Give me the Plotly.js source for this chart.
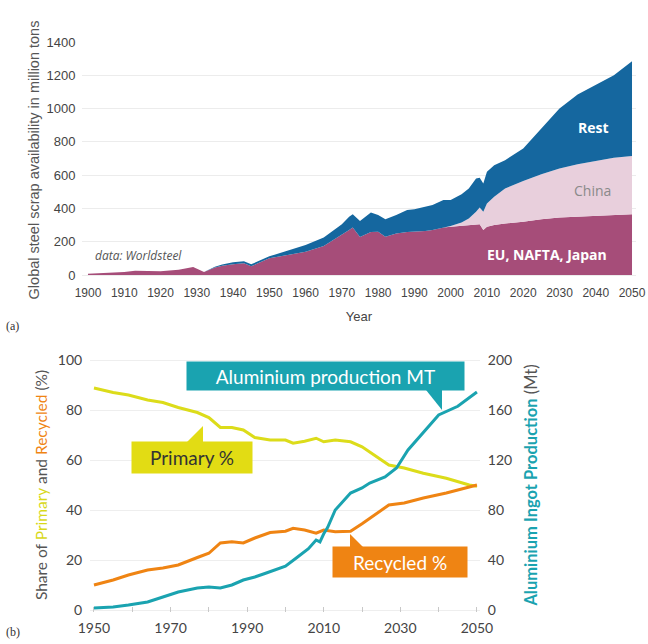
<!DOCTYPE html>
<html>
<head>
<meta charset="utf-8">
<script src="https://cdn.plot.ly/plotly-3.0.1.min.js"></script>
<style>html,body{margin:0;padding:0;background:#fff;}#chart{width:648px;height:644px;}</style>
</head>
<body>
<div id="chart"></div>
<script>
// ---- Panel (a): global steel scrap availability (million tons), stacked ----
const yearsA = [1900,1905,1910,1913,1917,1920,1925,1929,1932,1935,1937,1940,1943,1945,1950,1955,1960,1965,1970,1972,1973,1975,1978,1980,1982,1985,1988,1990,1993,1995,1998,2000,2003,2005,2007,2008,2009,2010,2012,2015,2020,2025,2030,2035,2040,2045,2050];
const euNaftaJapan = [8,12,18,25,22,22,32,48,18,45,55,65,70,52,100,120,140,175,240,270,285,228,258,260,230,250,258,260,265,270,285,290,295,300,300,305,270,290,300,310,320,335,345,350,355,360,365];
const china = [0,0,0,0,0,0,0,0,0,0,0,0,0,0,0,0,0,0,0,0,0,0,0,0,0,0,0,0,0,0,0,5,20,40,80,100,110,140,170,210,245,270,295,315,330,345,350];
const rest = [0,0,0,0,0,0,0,0,0,5,8,12,12,12,12,25,40,50,65,80,80,97,117,100,105,110,132,135,145,150,165,155,170,180,200,180,170,190,190,170,195,275,360,420,455,495,570];
const ticksA = [1900,1910,1920,1930,1940,1950,1960,1970,1980,1990,2000,2010,2020,2030,2040,2050];

// ---- Panel (b): aluminium ----
const yearsShare = [1950,1955,1959,1964,1968,1972,1977,1980,1983,1986,1989,1992,1996,2000,2002,2005,2008,2010,2013,2017,2020,2024,2027,2031,2036,2042,2048,2050];
const primaryPct = [88.8,87,86,84,83,81,79,77,73,73,72,69,68,68,66.7,67.5,68.7,67.3,68,67.3,65.3,61.3,58,56.8,54.7,52.7,50,49.5];
const recycledPct = [10,12,14,16,16.8,18,21,22.7,26.8,27.3,26.8,28.8,31,31.5,32.7,32,30.7,32,31.3,31.5,34.5,38.7,42,42.8,44.8,46.8,49,50];
const yearsProd = [1950,1955,1959,1964,1968,1972,1977,1980,1983,1986,1989,1992,1995,1998,2000,2003,2006,2008,2009,2010,2011,2013,2017,2020,2022,2026,2029,2032,2036,2040,2045,2050];
const productionMt = [1.6,2.4,4,6.4,10.4,14.4,17.6,18.4,17.6,20,24,26.4,29.6,33,35,42,49,56,54.5,61,66,80,93.6,97.6,101.6,106.4,113.6,128,141.6,156,163,174.4];
const ticksB = [1950,1970,1990,2010,2030,2050];

const W = 648, H = 644;
const px = v => v / W;
const py = v => 1 - v / H;

const C = {eu:'#a64d79', china:'#e8cfdc', rest:'#15679f', yel:'#dcdc1a', yelBox:'#e2dc14', ora:'#ef8413', teal:'#1aa3b0'};

const traces = [
  {x:yearsA, y:euNaftaJapan, name:'EU, NAFTA, Japan', type:'scatter', mode:'lines', stackgroup:'a', line:{width:0, color:C.eu}, fillcolor:C.eu, xaxis:'x', yaxis:'y'},
  {x:yearsA, y:china, name:'China', type:'scatter', mode:'lines', stackgroup:'a', line:{width:0, color:C.china}, fillcolor:C.china, xaxis:'x', yaxis:'y'},
  {x:yearsA, y:rest, name:'Rest', type:'scatter', mode:'lines', stackgroup:'a', line:{width:0, color:C.rest}, fillcolor:C.rest, xaxis:'x', yaxis:'y'},
  {x:yearsShare, y:primaryPct, name:'Primary %', type:'scatter', mode:'lines', line:{width:3, color:C.yel}, xaxis:'x2', yaxis:'y2'},
  {x:yearsShare, y:recycledPct, name:'Recycled %', type:'scatter', mode:'lines', line:{width:3, color:C.ora}, xaxis:'x2', yaxis:'y2'},
  {x:yearsProd, y:productionMt, name:'Aluminium production MT', type:'scatter', mode:'lines', line:{width:3, color:C.teal}, xaxis:'x2', yaxis:'y3'}
];

const AR = 'Liberation Sans, Arial, sans-serif';
const fAx = {family:AR, size:12, color:'#444'};
const fAy = {family:AR, size:13, color:'#444'};
const fB = {family:'Lato, sans-serif', size:14, color:'#444'};

function tri(pts, color){
  let d = 'M' + pts.map(p => px(p[0]) + ',' + py(p[1])).join(' L') + ' Z';
  return {type:'path', xref:'paper', yref:'paper', path:d, fillcolor:color, line:{width:0}, layer:'above'};
}

const layout = {
  width:W, height:H,
  margin:{l:0,r:0,t:0,b:0},
  paper_bgcolor:'#fff', plot_bgcolor:'rgba(0,0,0,0)',
  showlegend:false,
  xaxis:{domain:[px(82), px(636)], range:[1898.35, 2051.1], anchor:'y', tickvals:ticksA,
    showgrid:false, zeroline:false, showline:false, ticks:'outside', ticklen:4, tickcolor:'rgba(0,0,0,0)', tickfont:fAx,
    title:{text:'Year', font:{family:AR, size:13, color:'#444'}, standoff:12}},
  yaxis:{domain:[py(278), py(42)], range:[-18, 1400], dtick:200, anchor:'x',
    showgrid:true, gridcolor:'#ececec', gridwidth:1, zeroline:false, showline:false, ticks:'outside', ticklen:3, tickcolor:'rgba(0,0,0,0)', tickfont:fAy,
    title:{text:'Global steel scrap availability in million tons', font:{family:AR, size:14.5, color:'#555'}, standoff:3}},
  xaxis2:{domain:[px(90), px(480)], range:[1948.96, 2050.8], anchor:'y2', tickvals:ticksB,
    showgrid:false, zeroline:false, showline:false, ticks:'inside', ticklen:5, tickcolor:'#c8c8c8', tickfont:fB, ticklabelstandoff:6,
    minor:{dtick:10, tick0:1950, ticks:'inside', ticklen:5, tickcolor:'#c8c8c8', showgrid:false}},
  yaxis2:{domain:[py(612), py(358)], range:[-0.8, 100.8], dtick:20, anchor:'x2',
    showgrid:true, gridcolor:'#eeeeee', zeroline:false, showline:false, ticks:'outside', ticklen:4, tickcolor:'rgba(0,0,0,0)', tickfont:fB,
    title:{text:'Share of <span style="color:#d8d81a">Primary</span> and <span style="color:#ef8413">Recycled</span> (%)', font:{family:'Lato, sans-serif', size:15.5, color:'#555'}, standoff:6}},
  yaxis3:{overlaying:'y2', side:'right', anchor:'x2', range:[-1.6, 201.6], dtick:40,
    showgrid:false, zeroline:false, showline:false, ticks:'outside', ticklen:4, tickcolor:'rgba(0,0,0,0)', tickfont:fB,
    title:{text:'<b><span style="color:#1aa3b0">Aluminium Ingot Production</span></b> (Mt)', font:{family:'Lato, sans-serif', size:16.5, color:'#555'}, standoff:14}},
  annotations:[
    {xref:'paper', yref:'paper', x:px(611), y:py(128), xanchor:'right', yanchor:'middle', showarrow:false, text:'<b>Rest</b>', font:{family:'Open Sans, sans-serif', size:14, color:'#fff'}},
    {xref:'paper', yref:'paper', x:px(613), y:py(191), xanchor:'right', yanchor:'middle', showarrow:false, text:'China', font:{family:'Open Sans, sans-serif', size:14, color:'#8a8a8a'}},
    {xref:'paper', yref:'paper', x:px(609), y:py(254), xanchor:'right', yanchor:'middle', showarrow:false, text:'<b>EU, NAFTA, Japan</b>', font:{family:'Open Sans, sans-serif', size:14, color:'#fff'}},
    {xref:'paper', yref:'paper', x:px(93), y:py(256), xanchor:'left', yanchor:'middle', showarrow:false, text:'<i>data: Worldsteel</i>', font:{family:'Open Sans, sans-serif', size:12, color:'#555'}},
    {xref:'paper', yref:'paper', x:px(4), y:py(326), xanchor:'left', yanchor:'middle', showarrow:false, text:'(a)', font:{family:'Liberation Serif, serif', size:12, color:'#333'}},
    {xref:'paper', yref:'paper', x:px(4), y:py(632), xanchor:'left', yanchor:'middle', showarrow:false, text:'(b)', font:{family:'Liberation Serif, serif', size:12, color:'#333'}},
    {xref:'paper', yref:'paper', x:px(325.5), y:py(376), xanchor:'center', yanchor:'middle', showarrow:false, text:'Aluminium production MT', width:275, height:26, bgcolor:C.teal, borderpad:1, font:{family:'Lato, sans-serif', size:19, color:'#fff'}},
    {xref:'paper', yref:'paper', x:px(192), y:py(457.5), xanchor:'center', yanchor:'middle', showarrow:false, text:'Primary %', width:118, height:29, bgcolor:C.yelBox, borderpad:1, font:{family:'Lato, sans-serif', size:19, color:'#333'}},
    {xref:'paper', yref:'paper', x:px(400), y:py(562), xanchor:'center', yanchor:'middle', showarrow:false, text:'Recycled %', width:132, height:28, bgcolor:C.ora, borderpad:1, font:{family:'Lato, sans-serif', size:19, color:'#fff'}}
  ],
  shapes:[
    tri([[426,390],[442,390],[442,410]], C.teal),
    tri([[186,443],[203,443],[203,426]], C.yelBox),
    tri([[350,548],[364,548],[350,534]], C.ora)
  ]
};

Plotly.newPlot('chart', traces, layout, {displayModeBar:false, staticPlot:true});
</script>
</body>
</html>
